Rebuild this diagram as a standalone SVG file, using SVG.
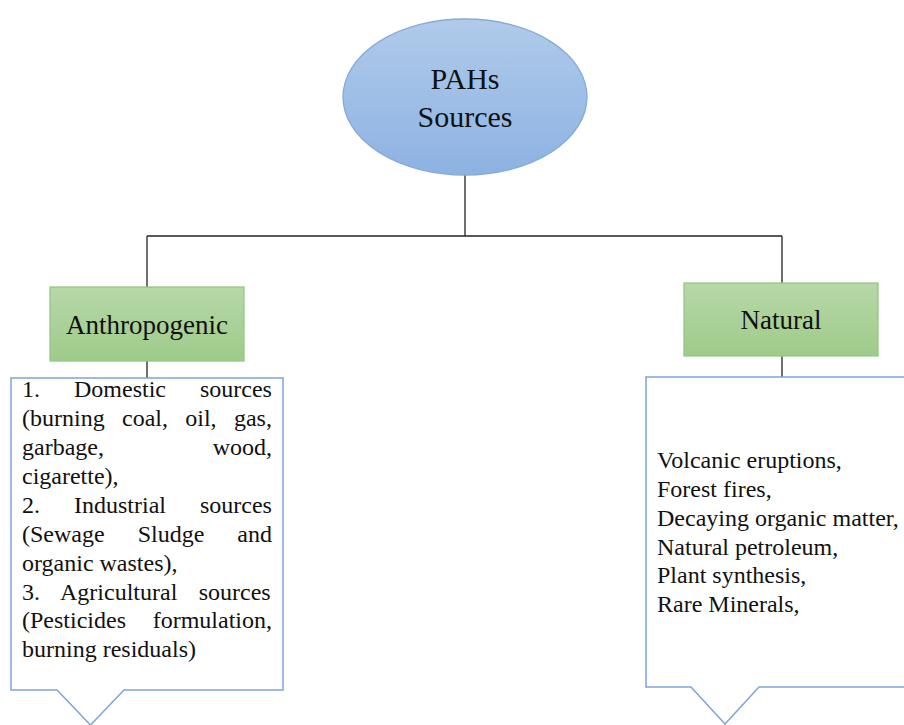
<svg xmlns="http://www.w3.org/2000/svg" width="904" height="725" viewBox="0 0 904 725" font-family="'Liberation Serif', 'DejaVu Serif', serif">
<defs>
<linearGradient id="gBlue" x1="0" y1="0" x2="0" y2="1">
<stop offset="0" stop-color="#B0CBEA"/>
<stop offset="1" stop-color="#8DB2E2"/>
</linearGradient>
<linearGradient id="gGreen" x1="0" y1="0" x2="0" y2="1">
<stop offset="0" stop-color="#B7D8A9"/>
<stop offset="1" stop-color="#9ECB89"/>
</linearGradient>
</defs>
<style>
.conn{stroke:#222;stroke-width:1.3;fill:none}
.box{fill:url(#gGreen);stroke:#95C784;stroke-width:1.3}
.call{fill:#fff;stroke:#7EA3DD;stroke-width:1.5}
.t24{font-size:24px;fill:#111}
.t27{font-size:27px;fill:#111}
</style>
<rect width="904" height="725" fill="#fff"/>
<g id="connectors">
<path class="conn" d="M465,175 V236 M147,236 H782 M147,236 V287 M782,236 V283 M147,361 V378 M782,356 V377"/>
</g>
<g id="pahs">
<ellipse cx="465" cy="97" rx="122" ry="78" fill="url(#gBlue)" stroke="#86AADB" stroke-width="1.3"/>
<text x="465" y="89" font-size="30" fill="#111" text-anchor="middle" font-family="Liberation Serif">PAHs</text>
<text x="465" y="127" font-size="30" fill="#111" text-anchor="middle" font-family="Liberation Serif">Sources</text>
</g>
<g id="anthropogenic">
<rect class="box" x="50" y="287" width="194" height="74"/>
<text class="t27" x="147" y="334" text-anchor="middle">Anthropogenic</text>
</g>
<g id="natural">
<rect class="box" x="684" y="283" width="194" height="73"/>
<text class="t27" x="781" y="329" text-anchor="middle">Natural</text>
</g>
<g id="anthropogenic-list">
<path class="call" d="M11,378 H283 V690 H124 L90.5,725 L57,690 H11 Z"/>
<text class="t24" x="22" y="397" word-spacing="28">1. Domestic sources</text>
<text class="t24" x="22" y="426" word-spacing="11.33">(burning coal, oil, gas,</text>
<text class="t24" x="22" y="455" word-spacing="102.7">garbage, wood,</text>
<text class="t24" x="22" y="484">cigarette),</text>
<text class="t24" x="22" y="513" word-spacing="28">2. Industrial sources</text>
<text class="t24" x="22" y="542" word-spacing="27">(Sewage Sludge and</text>
<text class="t24" x="22" y="571">organic wastes),</text>
<text class="t24" x="22" y="600" word-spacing="15.35">3. Agricultural sources</text>
<text class="t24" x="22" y="628" word-spacing="20.7">(Pesticides formulation,</text>
<text class="t24" x="22" y="657">burning residuals)</text>
</g>
<g id="natural-list">
<path class="call" d="M646,377 H906 V687 H759 L725,724 L691,687 H646 Z"/>
<text class="t24" x="657" y="468">Volcanic eruptions,</text>
<text class="t24" x="657" y="497">Forest fires,</text>
<text class="t24" x="657" y="526">Decaying organic matter,</text>
<text class="t24" x="657" y="555">Natural petroleum,</text>
<text class="t24" x="657" y="583">Plant synthesis,</text>
<text class="t24" x="657" y="612">Rare Minerals,</text>
</g>
</svg>
